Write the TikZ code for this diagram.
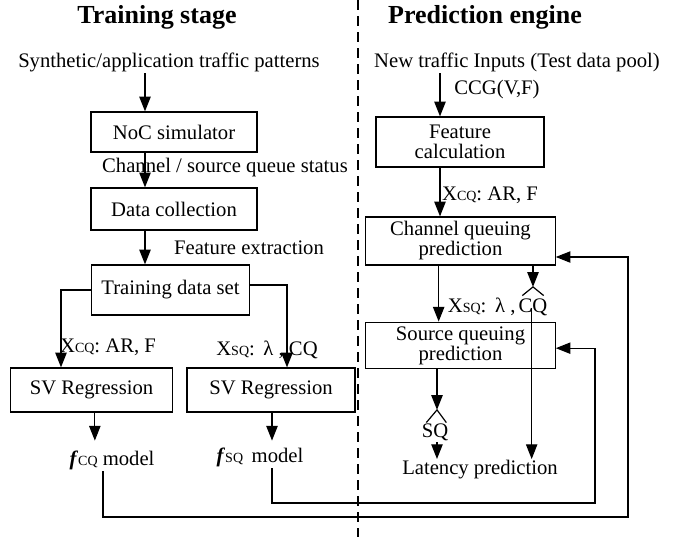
\documentclass[tikz,border=0pt]{standalone}
\usepackage{fontspec}
\setmainfont{Liberation Serif}
\usetikzlibrary{arrows.meta, positioning, shapes}

\newcommand{\smallsub}[1]{{\fontsize{10.5}{11}\selectfont #1}}

\tikzset{
  every node/.style={font=\fontsize{15.5}{17}\selectfont, inner sep=1pt},
  block/.style={draw, line width=0.9pt, inner sep=0pt, align=center},
  title/.style={font=\fontsize{19.5}{21}\selectfont\bfseries},
  arr/.style={line width=0.9pt, -{Triangle[length=11pt,width=8.5pt]}},
  link/.style={line width=0.9pt}
}

\begin{document}
\begin{tikzpicture}[x=0.75pt, y=-0.75pt]
\useasboundingbox (0,0) rectangle (692,537);

% training side
\node[title] (ttrain) at (157,17) {Training stage};
\node (synth) at (169,62) {Synthetic/application traffic patterns};
\node[block, minimum width=124.5pt, minimum height=30pt] (noc) at (174,132) {NoC simulator};
\node (status) at (225,168) {Channel / source queue status};
\node[block, minimum width=124.5pt, minimum height=31.5pt] (collect) at (174,209) {Data collection};
\node (extract) at (249,248) {Feature extraction};
\node[block, minimum width=119pt, minimum height=37.5pt] (dataset) at (170.5,290) {Training data set};
\node (xcq) at (108,347) {X\smallsub{CQ}: AR, F};
\node (xsq) at (267,350) {X\smallsub{SQ}:\, λ , CQ};
\node[block, minimum width=122pt, minimum height=33pt] (svrcq) at (91.5,390) {SV Regression};
\node[block, minimum width=126pt, minimum height=33pt] (svrsq) at (271,390) {SV Regression};
\node (fcq) at (112,460) {\textbf{\textit{f}}\smallsub{CQ} model};
\node (fsq) at (260,457) {\textbf{\textit{f}}\smallsub{SQ}\, model};

\coordinate (lx) at (145,0);
\coordinate (cqx) at (61,0);
\coordinate (sqx) at (287,0);
\coordinate (outer) at (628,517);
\coordinate (inner) at (595,503);

\draw[arr] (synth.south -| lx) -- (noc.north -| lx);
\draw[arr] (noc.south -| lx) -- (collect.north -| lx);
\draw[arr] (collect.south -| lx) -- (dataset.north -| lx);
\draw[arr] (dataset.west) -| (cqx |- svrcq.north);
\draw[arr] ([yshift=3.75pt]dataset.east) -| (sqx |- svrsq.north);
\draw[arr] ([xshift=2.5pt]svrcq.south) -- ++(0,28);
\draw[arr] ([xshift=0.75pt]svrsq.south) -- ++(0,28);

% prediction side
\draw[dash pattern=on 7.5pt off 4.5pt, line width=0.9pt] (358,0) -- (358,537);
\node[title] (tpred) at (485,17) {Prediction engine};
\node (newin) at (517,62) {New traffic Inputs (Test data pool)};
\node[block, minimum width=126pt, minimum height=37.5pt] (featcalc) at (460,142) {Feature\\[-2pt]calculation};
\node (ccg) at (497,90) {CCG(V,F)};
\node (xcq2) at (490,195) {X\smallsub{CQ}: AR, F};
\node[block, minimum width=142pt, minimum height=36pt] (cqpred) at (460.5,241) {Channel queuing\\[-2pt]prediction};
\node (cqhat) at (533,307) {CQ};
\node[left=0pt of cqhat] (xsq2) {X\smallsub{SQ}:\, λ ,};
\node[block, minimum width=142pt, minimum height=35pt] (sqpred) at (460.5,345.5) {Source queuing\\[-2pt]prediction};
\node (sqhat) at (435,432) {SQ};
\node (lat) at (480,470) {Latency prediction};

\coordinate (px) at (440,0);
\coordinate (cqtip) at ([yshift=7.5pt]cqhat.north);
\coordinate (sqtip) at ([xshift=1.5pt,yshift=9pt]sqhat.north);

\draw[arr] (newin.south -| px) -- (featcalc.north -| px);
\draw[arr] (featcalc.south -| px) -- (cqpred.north -| px);
\draw[arr] ([xshift=-1pt]cqpred.south -| px) -- ([xshift=-1pt]sqpred.north -| px);

% hats over the predicted queues
\draw[link] ([xshift=-8pt,yshift=-6.5pt]cqtip) -- (cqtip) -- ([xshift=8pt,yshift=-6.5pt]cqtip);
\draw[link] ([xshift=-8pt,yshift=-9.5pt]sqtip) -- (sqtip) -- ([xshift=7pt,yshift=-9.5pt]sqtip);
\draw[arr] (cqpred.south -| cqtip) -- (cqtip);
\draw[arr] ([xshift=-1pt,yshift=7pt]cqhat.south) -- ([xshift=-1pt]lat.north -| cqhat);
\draw[arr] (sqpred.south -| sqtip) -- (sqtip);
\draw[arr] (sqhat.south -| sqtip) -- (lat.north -| sqtip);

% model feedback loops
\draw[arr] ([xshift=-6.75pt]fcq.south) |- (outer) |- ([yshift=-12pt]cqpred.east);
\draw[arr] ([xshift=9pt]fsq.south) |- (inner) |- ([yshift=-2pt]sqpred.east);
\end{tikzpicture}
\end{document}
